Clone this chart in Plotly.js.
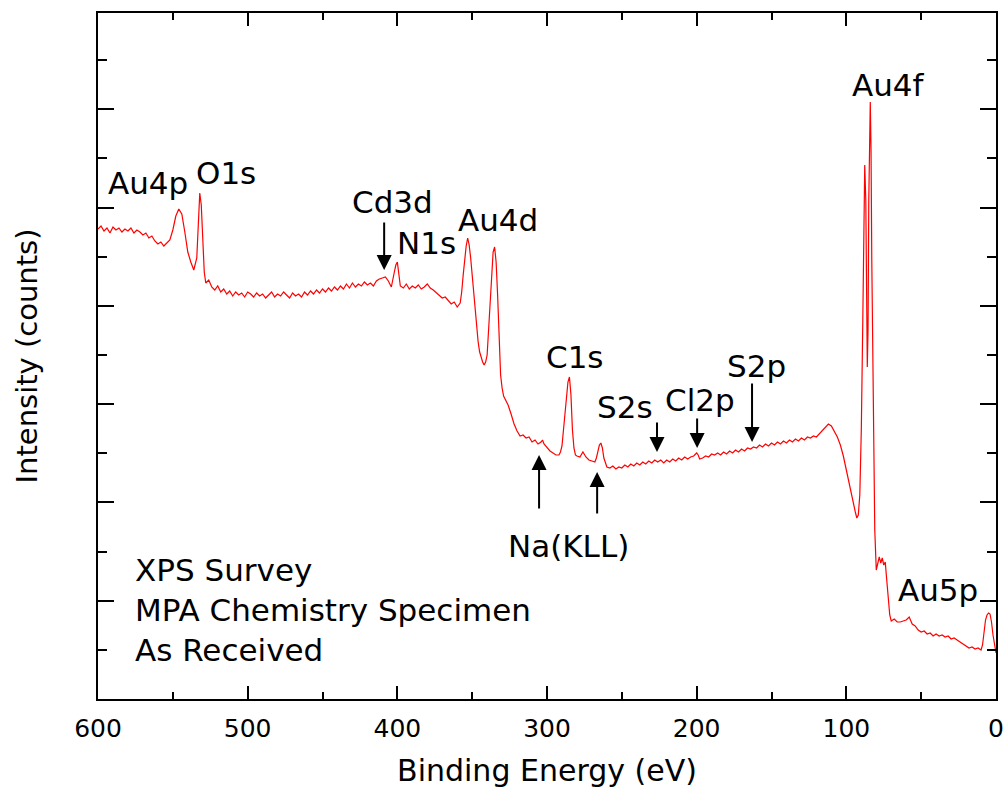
<!DOCTYPE html>
<html>
<head>
<meta charset="utf-8">
<script src="https://cdn.plot.ly/plotly-3.0.1.min.js"></script>
<style>html,body{margin:0;padding:0;background:#fff;}#chart{width:1006px;height:799px;}</style>
</head>
<body>
<div id="chart"></div>
<script>
// Binding energy (eV)
const bindingEnergy = [600,598,596,594,592,590,588,586,584,582,580,578,576,574,572,570,568,566,564,562,560,558,556,554,552,550,548,546,544,542,540,538,536,534,533,532,531,530,529,528,526,524,522,520,518,516,514,512,510,508,506,504,502,500,498,496,494,492,490,488,486,484,482,480,478,476,474,472,470,468,466,464,462,460,458,456,454,452,450,448,446,444,442,440,438,436,434,432,430,428,426,424,422,420,418,416,414,412,410,408,406,404,402,401,400,399,398,396,394,392,390,388,386,384,382,380,378,376,374,372,370,368,366,364,362,360,358,357,356,355,354,353,352,351,350,349,348,347,346,345,344,343,342,341,340,339,338,337,336,335,334,333,332,331,330,329,328,326,324,322,320,318,316,314,312,310,308,306,304,303,302,300,298,296,294,292,291,290,289,288,287,286,285,284,283,282,281,280,278,276,274,272,270,268,267,266,265,264,263,262,261,260,258,256,254,252,250,248,246,244,242,240,238,236,234,232,230,228,226,224,222,220,218,216,214,212,210,208,206,204,202,200,199,198,196,194,192,190,188,186,184,182,180,178,176,174,172,170,168,166,164,162,160,158,156,154,152,150,148,146,144,142,140,138,136,134,132,130,128,126,124,122,120,118,116,114,112,110,108,106,104,102,100,98,96,94,93,92,91,90,89,88,87.7,87,86.5,86,85.5,85,84,83.5,83,82,81,80,79,78,77,76,75,74,73,72,71,70,68,66,64,62,60,58,57,56,54,52,50,48,46,44,42,40,38,36,34,32,30,28,26,24,22,20,18,16,14,12,10,9,8,7,6,5,4,3,2,1,0];
// Intensity (counts, arbitrary scale)
const intensity = [47000,47300,46800,47100,46600,47200,46900,47100,46700,47000,46800,47100,46600,46900,46700,46400,46600,46100,46300,45800,45500,45700,45300,45600,45900,46900,48300,49000,48500,46700,44700,43700,42900,44100,47700,50600,49400,45900,42700,41600,41900,41200,40900,41300,40700,41000,40500,40800,40300,40700,40400,40600,40200,40700,40500,40200,40600,40300,40500,40100,40400,40700,40200,40500,40300,40700,40400,40100,40600,40300,40500,40200,40700,40400,40800,40500,40900,40600,41000,40700,41100,40800,41200,40900,41300,41000,41500,41100,41600,41200,41500,41300,41700,41400,41600,41300,41800,42000,42100,42200,41800,41200,42700,43400,43700,42500,41300,41100,41500,41000,41300,41100,41400,41000,41200,41500,41100,40900,40600,40400,40100,40200,39800,39500,39700,39200,39600,40700,42400,43900,45300,46100,45400,44100,42400,40700,38700,36900,35700,34700,34100,33700,33400,33700,34400,36900,39900,43100,44700,45200,43700,40400,35900,32400,31100,30300,30000,29400,28500,27500,26800,26300,26400,26100,26200,25700,25900,25500,25700,25900,25500,25100,24800,24600,24400,24400,24700,25300,26900,28700,30400,31700,32200,30400,26900,25100,24400,24300,24200,24700,24200,23900,23800,23700,24100,24700,25400,25600,25100,24100,23500,23200,23100,23300,23000,23200,23100,23400,23200,23500,23300,23600,23400,23700,23500,23800,23600,23900,23700,23900,23600,23900,23700,24000,23800,24100,23900,24200,24000,24200,24300,24600,24400,24000,24100,24300,24200,24500,24400,24600,24400,24700,24500,24800,24600,24900,24700,25000,24800,25100,25000,25200,25100,25400,25200,25500,25300,25600,25400,25700,25500,25800,25600,25900,25700,26000,25800,26100,25900,26200,26100,26300,26200,26500,26900,27200,27500,27300,26800,26200,25400,24300,22900,21400,19900,18700,18100,18400,20400,26900,37900,49900,53400,49900,40900,33200,36900,49900,59700,54900,43900,27900,16900,12900,13700,14200,13600,14100,13400,13700,11900,9900,8400,7800,8000,7700,7700,7800,7900,8200,7900,7500,7300,6900,6700,6800,6500,6600,6300,6500,6300,6400,6200,6300,6000,6100,5900,5700,5500,5300,5100,5200,5000,5100,4900,5400,6700,7900,8400,8600,8500,7700,6400,5400,4600];

const peakLabels = ["Au4p","O1s","Cd3d","N1s","Au4d","C1s","S2s","Cl2p","S2p","Na(KLL)","Au4f","Au5p"];
const noteLines = ["XPS Survey","MPA Chemistry Specimen","As Received"];

const FONT = "DejaVu Sans";
// label placements (x in eV, y in counts)
const labelPos = [[566.5,51600],[514.4,52600],[403.5,49700],[380.8,45600],[332.7,47900],[281.2,34200],[247.8,29200],[197.7,29900],[160.3,33300],[285.9,15300],[71.5,61400],[38.7,10900]];
const annotations = peakLabels.map((t,i)=>({
  text:t, x:labelPos[i][0], y:labelPos[i][1], xref:'x', yref:'y',
  showarrow:false, xanchor:'center', yanchor:'middle',
  font:{family:FONT,size:31,color:'#000'}
}));
const noteY = [12900,8900,4900];
noteLines.forEach((t,i)=>annotations.push({
  text:t, x:576.5, y:noteY[i], xref:'x', yref:'y', showarrow:false,
  xanchor:'left', yanchor:'middle', font:{family:FONT,size:31,color:'#000'}
}));
// arrows: tip (x,y) and tail offset ay in px
const arrows = [[408.8,42900,-49],[226.5,24700,-31],[199.7,25100,-31],[163.0,25700,-60],[305.3,24400,55],[266.5,22700,43]];
arrows.forEach(a=>annotations.push({
  text:'', x:a[0], y:a[1], xref:'x', yref:'y', showarrow:true,
  ax:0, ay:a[2], arrowhead:2, arrowsize:1.5, arrowwidth:2, arrowcolor:'#000', standoff:0, startstandoff:0
}));

const trace = {x:bindingEnergy, y:intensity, type:'scatter', mode:'lines',
  line:{color:'#ff0000', width:1.2}, hoverinfo:'skip'};

const layout = {
  width:1006, height:799,
  margin:{l:98, r:10, t:13, b:100},
  paper_bgcolor:'#fff', plot_bgcolor:'#fff',
  showlegend:false,
  font:{family:FONT, color:'#000'},
  xaxis:{
    range:[600,0], tick0:0, dtick:100, ticks:'inside', ticklen:13, tickwidth:2, tickcolor:'#000',
    minor:{dtick:50, ticks:'inside', ticklen:7, tickwidth:2, tickcolor:'#000'},
    showline:true, linewidth:2, linecolor:'#000', mirror:'ticks', showgrid:false, zeroline:false,
    tickfont:{family:FONT, size:25, color:'#000'}, ticklabelstandoff:6,
    title:{text:'Binding Energy (eV)', font:{family:FONT, size:30, color:'#000'}, standoff:18}
  },
  yaxis:{
    range:[0,68600], tick0:0, dtick:9830, ticks:'inside', ticklen:16, tickwidth:2, tickcolor:'#000',
    minor:{dtick:4915, ticks:'inside', ticklen:9, tickwidth:2, tickcolor:'#000'},
    showline:true, linewidth:2, linecolor:'#000', mirror:'ticks', showgrid:false, zeroline:false,
    showticklabels:false,
    title:{text:'Intensity (counts)', font:{family:FONT, size:29, color:'#000'}, standoff:50}
  },
  annotations:annotations
};

Plotly.newPlot('chart',[trace],layout,{displayModeBar:false, staticPlot:true});
</script>
</body>
</html>
